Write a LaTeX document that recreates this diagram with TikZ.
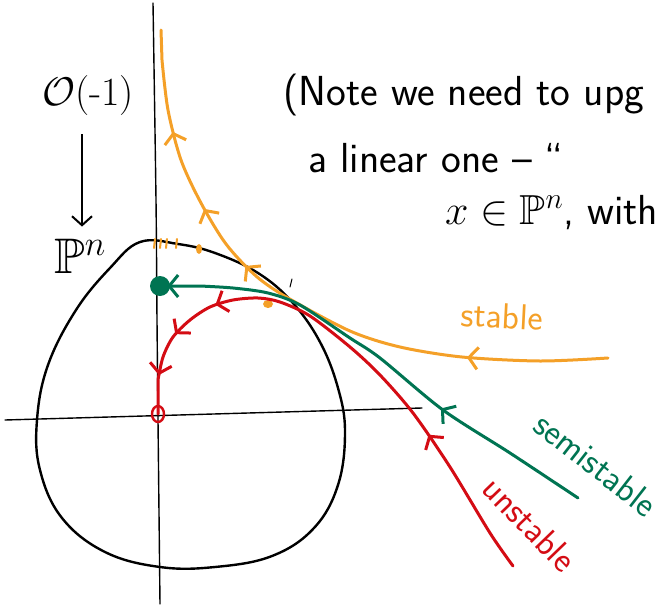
\RequirePackage{fix-cm}
\documentclass[tikz,border=0pt]{standalone}
\usepackage{amssymb}
\usetikzlibrary{arrows.meta,decorations.markings}

\definecolor{stableorange}{RGB}{244,160,40}
\definecolor{semigreen}{RGB}{0,116,82}
\definecolor{unstred}{RGB}{212,12,20}

\tikzset{
  axis/.style={line width=1.4pt, line cap=round},
  egg/.style={line width=2.4pt, line join=round},
  flow/.style={line width=3pt, line cap=round, line join=round},
  flowmark/.style={postaction={decorate, decoration={markings,
      mark=at position #1 with {\arrow{Straight Barb[length=9pt,width=22pt]}}}}},
  hand/.style={font=\fontsize{42}{48}\selectfont\sffamily, inner sep=0pt},
  lbl/.style={font=\fontsize{36}{42}\selectfont\sffamily, inner sep=0pt},
}

\begin{document}
\begin{tikzpicture}[x=1pt, y=-1pt]
\useasboundingbox (0,0) rectangle (670,608);

% ===== Axes and the curve =====
\draw[axis] plot[smooth] coordinates {(153,3) (156,200) (157,320) (158,420) (160,604)};
\draw[axis] (5,420) -- (422,408);
\draw[egg] plot[smooth cycle, tension=0.65] coordinates {
  (140,242) (178,244) (215,253) (258,273) (292,302) (320,342) (338,388)
  (345,432) (338,485) (314,528) (272,556) (215,567) (160,567) (105,552)
  (62,518) (40,470) (37,420) (48,365) (76,310) (110,268)};

% ===== Marks on top of the curve =====
\foreach \x in {155,161,167,177} {
    \draw[stableorange, line width=2pt, line cap=round] (\x,239) -- (\x-1,248);
}
\fill[stableorange] (199,249) ellipse (3pt and 5pt);
\fill[stableorange] (268,304) ellipse (5pt and 4pt);
\draw[line width=1pt, line cap=round] (292,279) -- (290,287);

% ===== Flow lines =====
\coordinate (stabletop) at (161,30);
\coordinate (semipt) at (160,286);
\coordinate (unstpt) at (158,414);

\draw[flow, stableorange, flowmark=0.22, flowmark=0.6, flowmark=0.71, flowmark=0.84]
  plot[smooth] coordinates {(608,358) (540,361) (462,357) (400,347) (350,331)
  (288,298) (256,276) (226,244) (201,203) (181,160) (168,110) (162,60)} -- (stabletop);

\draw[flow, semigreen, flowmark=0.34, flowmark=0.985]
  plot[smooth] coordinates {(578,498) (510,453) (443,410) (380,358) (350,338)
  (300,305) (268,293) (233,288) (200,286)} -- (semipt);
\fill[semigreen] (semipt) ellipse (10pt and 10pt);

\draw[flow, unstred, flowmark=0.28, flowmark=0.76, flowmark=0.85, flowmark=0.93]
  plot[smooth] coordinates {(513,566) (490,533) (450,467) (413,413) (380,375)
  (350,347) (310,316) (280,302) (258,298) (233,300) (210,307) (190,320)
  (173,337) (163,357) (158,380)} -- (unstpt);
\draw[unstred, line width=2.4pt] (unstpt) ellipse (6pt and 8pt);

% ===== Labels =====
\node[lbl, stableorange, rotate=-3] (stablelbl) at (502,316) {stable};
\node[lbl, semigreen, rotate=-38] (semilbl) at (596,464) {semistable};
\node[lbl, unstred, rotate=-46] (unstlbl) at (530,524) {unstable};

\node[font=\fontsize{40}{46}\selectfont, inner sep=0pt] (sheaf) at (88,96) {$\mathcal{O}$(-1)};
\node[font=\fontsize{50}{56}\selectfont, inner sep=0pt] (proj) at (80,256) {$\mathbb{P}^n$};
\draw[line width=2pt, -{Straight Barb[length=9pt,width=20pt]}, shorten <=18pt, shorten >=12pt]
  (sheaf.south -| 82,0) -- (proj.north -| 82,0);

% ===== Note =====
\node[hand, anchor=base west] (note1) at (283,105) {(Note we need to upg};
\node[hand, anchor=base west] (note2) at (308,172) {a linear one -- ``};
\node[hand, anchor=base west] (note3) at (445,224) {$x\in\mathbb{P}^n$, with};

\end{tikzpicture}
\end{document}
